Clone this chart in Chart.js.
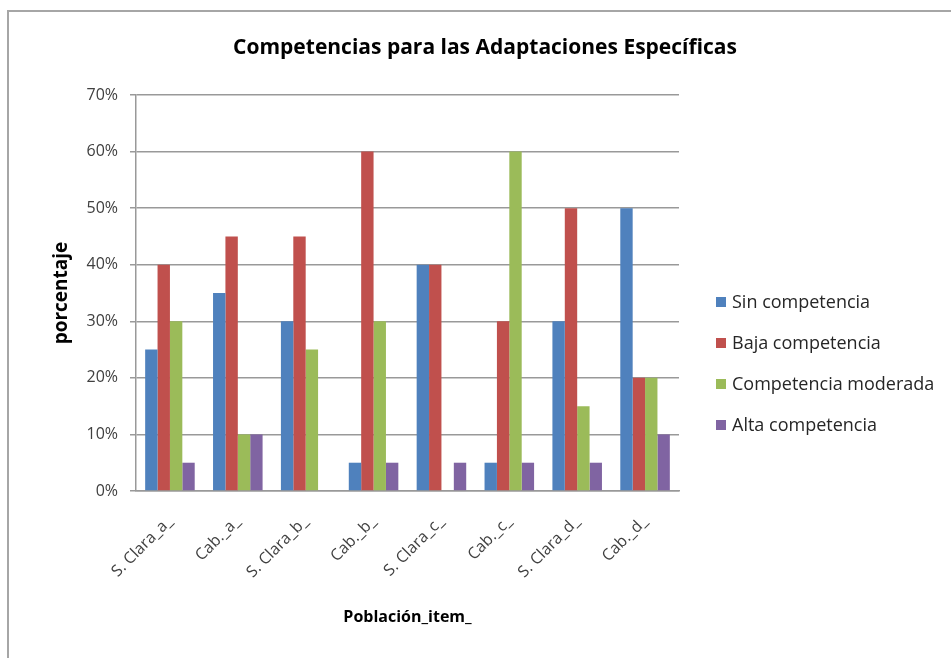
<!DOCTYPE html>
<html>
<head>
<meta charset="utf-8">
<script src="https://cdn.jsdelivr.net/npm/chart.js@4/dist/chart.umd.min.js"></script>
<style>
html,body{margin:0;padding:0;background:#fff;}
#wrap{position:relative;width:951px;height:658px;}
</style>
</head>
<body>
<div id="wrap"><canvas id="c" width="951" height="658"></canvas></div>
<script>
const categories = ["S. Clara_a_", "Cab._a_", "S. Clara_b_", "Cab._b_", "S. Clara_c_", "Cab._c_", "S. Clara_d_", "Cab._d_"];
const seriesNames = ["Sin competencia", "Baja competencia", "Competencia moderada", "Alta competencia"];
const sinCompetencia = [25, 35, 30, 5, 40, 5, 30, 50];
const bajaCompetencia = [40, 45, 45, 60, 40, 30, 50, 20];
const competenciaModerada = [30, 10, 25, 30, 0, 60, 15, 20];
const altaCompetencia = [5, 10, 0, 5, 5, 5, 5, 10];
const yTicks = [0, 10, 20, 30, 40, 50, 60, 70];
const colors = ["#4F81BD", "#C0504D", "#9BBB59", "#8064A2"];

const FONT = "'Open Sans', sans-serif";

const framePlugin = {
  id: 'frame',
  beforeDraw(chart) {
    const ctx = chart.ctx;
    ctx.save();
    ctx.strokeStyle = '#a6a6a6';
    ctx.lineWidth = 2;
    ctx.beginPath();
    ctx.moveTo(8, chart.height);
    ctx.lineTo(8, 11);
    ctx.lineTo(chart.width, 11);
    ctx.stroke();
    ctx.restore();
  }
};

// legend drawn in the reserved right-hand area, from the chart's own datasets
const sideLegend = {
  id: 'sideLegend',
  afterDraw(chart) {
    const ctx = chart.ctx;
    const ds = chart.data.datasets;
    const step = 41;
    const centerY = 363.5;
    const y0 = centerY - step * (ds.length - 1) / 2;
    const bx = chart.chartArea.right + 37;
    ctx.save();
    ctx.font = "18px " + FONT;
    ctx.textBaseline = 'middle';
    ctx.textAlign = 'left';
    ds.forEach((d, i) => {
      const y = y0 + i * step;
      ctx.fillStyle = d.backgroundColor;
      ctx.fillRect(bx, y - 5, 10, 10);
      ctx.fillStyle = '#262626';
      ctx.fillText(d.label, bx + 16, y + 1);
    });
    ctx.restore();
  }
};

const tickFont = {family: FONT, size: 16};
const values = [sinCompetencia, bajaCompetencia, competenciaModerada, altaCompetencia];

new Chart(document.getElementById('c'), {
  type: 'bar',
  data: {
    labels: categories,
    datasets: seriesNames.map((n, i) => ({
      label: n,
      data: values[i],
      backgroundColor: colors[i],
      borderWidth: 0,
      categoryPercentage: 0.73,
      barPercentage: 1.0
    }))
  },
  options: {
    responsive: false,
    animation: false,
    devicePixelRatio: 1,
    layout: {padding: {left: 19, right: 0, top: 0, bottom: 31}},
    plugins: {
      title: {
        display: true,
        text: 'Competencias para las Adaptaciones Específicas',
        font: {family: FONT, size: 21, weight: 'bold'},
        color: '#000',
        padding: {top: 35.4, bottom: 34.4}
      },
      legend: {display: false},
      tooltip: {enabled: false}
    },
    scales: {
      x: {
        grid: {display: false, drawTicks: false},
        border: {display: true, color: '#999', width: 1.5},
        ticks: {
          font: tickFont,
          color: '#404040',
          maxRotation: 45,
          minRotation: 45,
          padding: 21
        },
        title: {
          display: true,
          text: 'Población_item_',
          font: {family: FONT, size: 16, weight: 'bold'},
          color: '#000',
          padding: {top: 0, bottom: 0}
        },
        afterFit(s) { s.height = 136; }
      },
      y: {
        min: 0,
        max: 70,
        afterBuildTicks(s) { s.ticks = yTicks.map(v => ({value: v})); },
        grid: {color: '#999', lineWidth: 1.5, tickLength: 6, drawTicks: true},
        border: {display: true, color: '#999', width: 1.5},
        ticks: {
          font: tickFont,
          color: '#404040',
          padding: 12,
          callback: v => v + '%'
        },
        title: {
          display: true,
          text: 'porcentaje',
          font: {family: FONT, size: 19, weight: 'bold'},
          color: '#000',
          padding: {top: 31.6, bottom: 0}
        },
        afterFit(s) { s.width = 117; }
      },
      yR: {
        position: 'right',
        display: true,
        grid: {display: false},
        border: {display: false},
        ticks: {display: false},
        afterFit(s) { s.width = 272; }
      }
    }
  },
  plugins: [framePlugin, sideLegend]
});
</script>
</body>
</html>
